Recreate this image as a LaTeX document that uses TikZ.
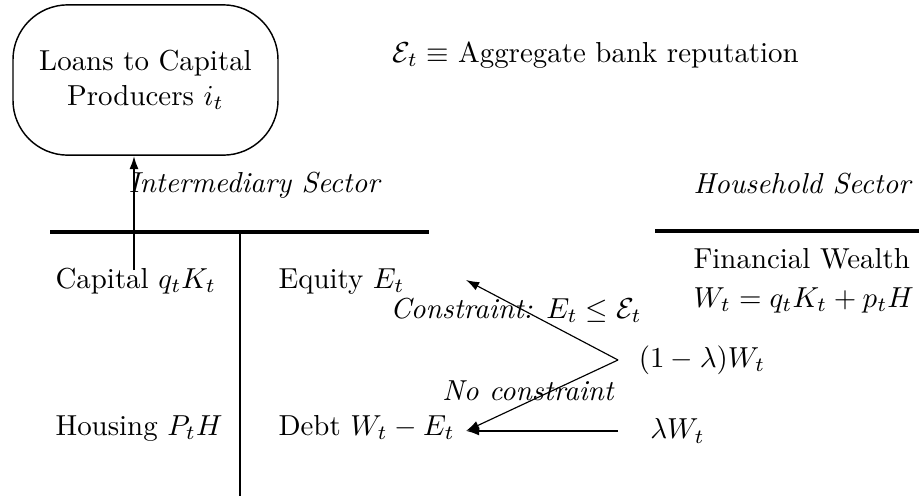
\documentclass[tikz,border=0pt]{standalone}
\usetikzlibrary{arrows.meta,positioning}

\begin{document}
\begin{tikzpicture}[x=0.346pt, y=-0.346pt,
      every node/.style={inner sep=0pt},
      loanbox/.style={draw, line width=0.5pt, rounded corners=19pt, align=center,
                      minimum width=91.7pt, minimum height=52pt},
      sector/.style={font=\itshape, anchor=base west},
      entry/.style={anchor=base west},
      rule/.style={line width=1.05pt},
      arr/.style={-{Latex[length=1.6mm,width=1.1mm]}, line width=0.4pt},
      harr/.style={arr, line width=0.8pt}]
    \useasboundingbox (0,0) rectangle (919,500);
    % top: loans and reputation
    \node[loanbox] (loans) at (145.5,80) {Loans to Capital\\Producers $i_t$};
    \node[entry] (repu) at (392,62) {$\mathcal{E}_t \equiv$ Aggregate bank reputation};
    % balance sheets
    \node[sector] (inter) at (128,192) {Intermediary Sector};
    \node[sector] (house) at (693,193) {Household Sector};
    \draw[rule] (50,232) -- (429,232);
    \draw[rule] (655,231) -- (919,231);
    \coordinate (split) at (240,232);
    \draw[line width=0.7pt] (split) -- (240,496);
    \node[entry] (capital) at (55,288) {Capital $q_tK_t$};
    \node[entry] (equity) at (278,288) {Equity $E_t$};
    \node[entry] (housing) at (55,435) {Housing $P_tH$};
    \node[entry] (debt) at (278,435) {Debt $W_t - E_t$};
    \node[anchor=north west, align=left] (wealth) at (693,248) {Financial Wealth\\[1.5pt]$W_t = q_tK_t + p_tH$};
    % flows
    \node[anchor=west, inner xsep=7pt] (share) at (618,360) {$(1-\lambda)W_t$};
    \node[anchor=west, inner xsep=11pt] (lamw) at (618,431) {$\lambda W_t$};
    \coordinate (eqtip) at (466,280);
    \coordinate (dbtip) at (466,431);
    \coordinate (capin) at (134,270);
    \draw[arr, line width=0.7pt] (capin) -- (capin |- loans.south);
    \draw[arr] (share.west) -- (eqtip);
    \draw[arr] (share.west) -- (dbtip);
    \draw[harr] (lamw.west) -- (dbtip);
    \node[font=\itshape, anchor=base] (cons) at (516,318) {Constraint: $E_t \leq \mathcal{E}_t$};
    \node[font=\itshape, anchor=base] (nocons) at (528,400) {No constraint};
  \end{tikzpicture}
\end{document}
